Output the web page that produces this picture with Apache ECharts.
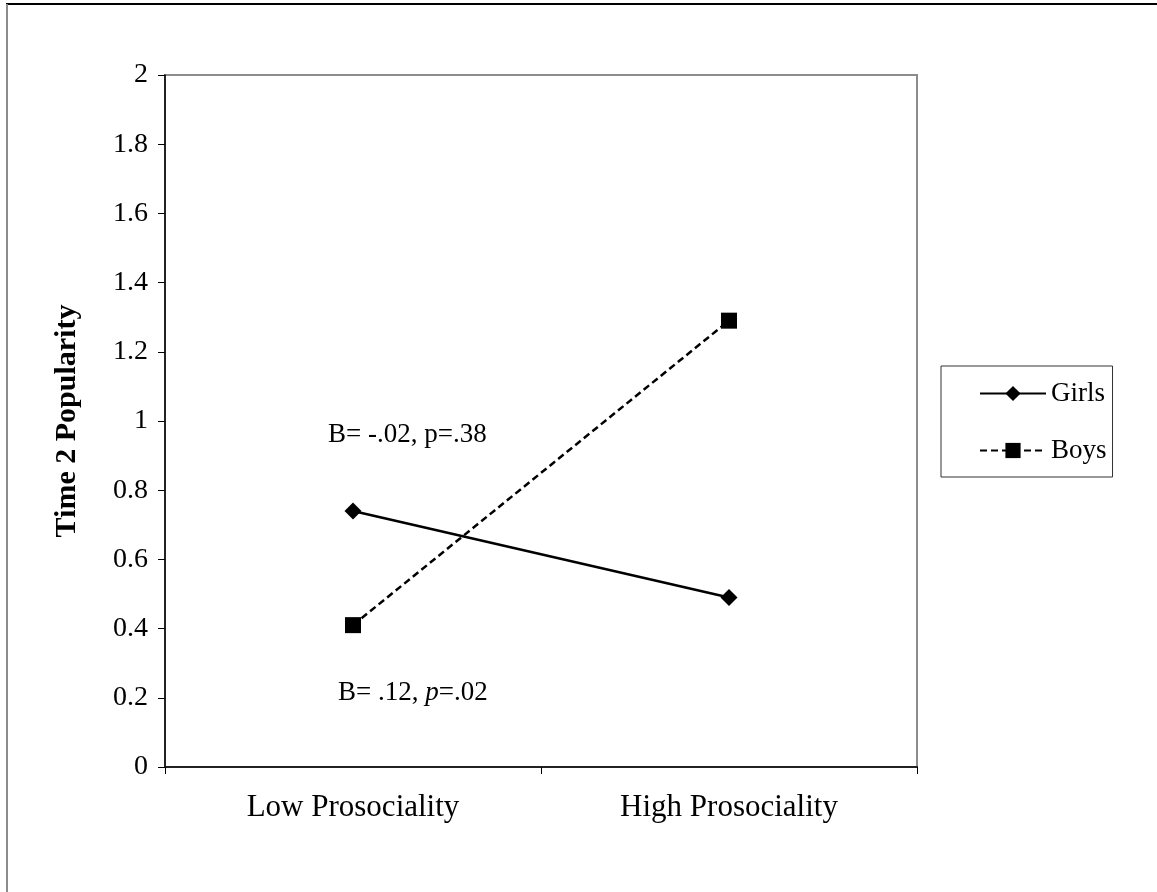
<!DOCTYPE html>
<html>
<head>
<meta charset="utf-8">
<script src="https://cdn.jsdelivr.net/npm/echarts@6/dist/echarts.min.js"></script>
<style>
html,body{margin:0;padding:0;background:#fff;}
#chart{width:1157px;height:892px;}
</style>
</head>
<body>
<div id="chart"></div>
<script>
const categories = ['Low Prosociality', 'High Prosociality'];
const girls = [0.74, 0.49];
const boys = [0.41, 1.29];
const seriesNames = ['Girls', 'Boys'];
const yAxisTitle = 'Time 2 Popularity';
const noteGirls = 'B= -.02, p=.38';
const noteBoysParts = ['B= .12, ', 'p', '=.02'];

const FONT = '"Liberation Serif", "Times New Roman", serif';
const chart = echarts.init(document.getElementById('chart'));
chart.setOption({
  backgroundColor: '#fff',
  animation: false,
  textStyle: { fontFamily: FONT, color: '#000' },
  grid: {
    left: 165, top: 75, right: 240, bottom: 125,
    show: true, borderColor: '#8c8c8c', borderWidth: 2, backgroundColor: 'transparent'
  },
  legend: {
    orient: 'vertical',
    left: 941, top: 366,
    backgroundColor: '#fff',
    borderColor: '#333',
    borderWidth: 1,
    padding: [14, 6, 13, 38],
    itemGap: 30,
    itemWidth: 66,
    itemHeight: 19,
    textStyle: { fontFamily: FONT, fontSize: 27, color: '#000', padding: [0, 0, 0, 0] },
    data: seriesNames
  },
  xAxis: {
    type: 'category',
    data: categories,
    boundaryGap: true,
    axisLine: { lineStyle: { color: '#222', width: 2 } },
    axisTick: { show: true, length: 7, lineStyle: { color: '#000', width: 1 } },
    axisLabel: { fontFamily: FONT, fontSize: 31, color: '#000', margin: 25 },
    splitLine: { show: false }
  },
  yAxis: {
    type: 'value',
    min: 0, max: 2, interval: 0.2,
    name: yAxisTitle,
    nameLocation: 'middle',
    nameRotate: 90,
    nameGap: 83,
    nameTextStyle: { fontFamily: FONT, fontSize: 30, fontWeight: 'bold', color: '#000' },
    axisLine: { show: true, lineStyle: { color: '#000', width: 1.5 } },
    axisTick: { show: true, length: 7, lineStyle: { color: '#000', width: 1 } },
    axisLabel: { fontFamily: FONT, fontSize: 28, color: '#000', margin: 17 },
    splitLine: { show: false }
  },
  series: [
    {
      name: seriesNames[0], type: 'line', data: girls,
      symbol: 'diamond', symbolSize: 17,
      itemStyle: { color: '#000' },
      lineStyle: { color: '#000', width: 2.5, type: 'solid' }
    },
    {
      name: seriesNames[1], type: 'line', data: boys,
      symbol: 'rect', symbolSize: 16,
      itemStyle: { color: '#000' },
      lineStyle: { color: '#000', width: 2.5, type: [7, 4] }
    }
  ],
  graphic: [
    { type: 'line', shape: { x1: 6, y1: 4, x2: 1157, y2: 4 }, style: { stroke: '#000', lineWidth: 2 } },
    { type: 'line', shape: { x1: 7, y1: 4, x2: 7, y2: 892 }, style: { stroke: '#8c8c8c', lineWidth: 2 } },
    {
      type: 'text', left: 328, top: 421,
      style: { text: noteGirls, font: '27px ' + FONT, fill: '#000' }
    },
    {
      type: 'text', left: 338, top: 679,
      style: {
        text: '{n|' + noteBoysParts[0] + '}{i|' + noteBoysParts[1] + '}{n|' + noteBoysParts[2] + '}',
        rich: {
          n: { fontFamily: FONT, fontSize: 27, fill: '#000' },
          i: { fontFamily: FONT, fontSize: 27, fontStyle: 'italic', fill: '#000' }
        }
      }
    }
  ]
});
</script>
</body>
</html>
